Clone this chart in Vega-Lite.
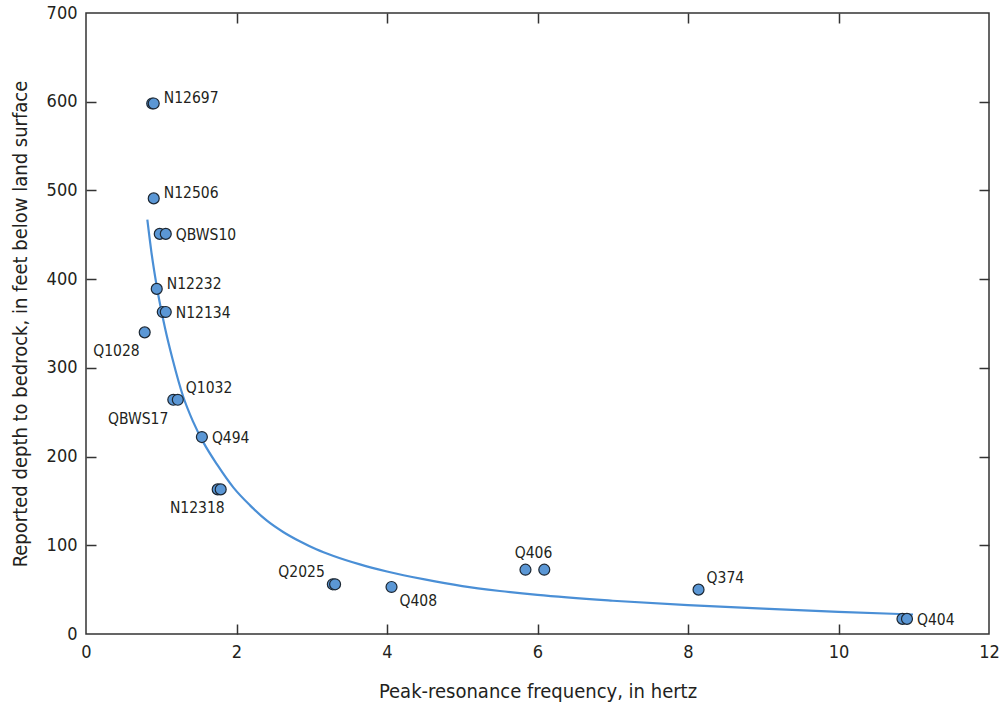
{
  "$schema": "https://vega.github.io/schema/vega-lite/v6.json",
  "autosize": {"type": "none"},
  "width": 903,
  "height": 621,
  "padding": {"left": 86, "top": 13, "right": 11, "bottom": 72},
  "background": "white",
  "config": {
    "view": {"stroke": "#333333", "strokeWidth": 1.5},
    "font": "'Liberation Sans Narrow', 'DejaVu Sans Condensed', 'Roboto Condensed', Roboto, sans-serif",
    "text": {"font": "'Liberation Sans Narrow', 'DejaVu Sans Condensed', 'Roboto Condensed', Roboto, sans-serif"},
    "axis": {"grid": false, "domainColor": "#333333", "tickColor": "#333333", "labelColor": "#231f20", "titleColor": "#231f20", "labelFont": "'Liberation Sans Narrow', 'DejaVu Sans Condensed', 'Roboto Condensed', Roboto, sans-serif", "titleFont": "'Liberation Sans Narrow', 'DejaVu Sans Condensed', 'Roboto Condensed', Roboto, sans-serif", "labelFontSize": 18, "titleFontSize": 20, "titleFontWeight": "normal", "domainWidth": 1.5, "tickWidth": 1.5}
  },
  "datasets": {
    "pts": [
      {"site": "N12697", "freq": 0.88, "depth": 598},
      {"site": "N12697", "freq": 0.90, "depth": 598},
      {"site": "N12506", "freq": 0.90, "depth": 491},
      {"site": "QBWS10", "freq": 0.98, "depth": 451},
      {"site": "QBWS10", "freq": 1.06, "depth": 451},
      {"site": "N12232", "freq": 0.94, "depth": 389},
      {"site": "N12134", "freq": 1.02, "depth": 363},
      {"site": "N12134", "freq": 1.06, "depth": 363},
      {"site": "Q1028", "freq": 0.78, "depth": 340},
      {"site": "QBWS17", "freq": 1.16, "depth": 264},
      {"site": "Q1032", "freq": 1.22, "depth": 264},
      {"site": "Q494", "freq": 1.54, "depth": 222},
      {"site": "N12318", "freq": 1.75, "depth": 163},
      {"site": "N12318", "freq": 1.79, "depth": 163},
      {"site": "Q2025", "freq": 3.28, "depth": 56},
      {"site": "Q2025", "freq": 3.31, "depth": 56},
      {"site": "Q408", "freq": 4.06, "depth": 53},
      {"site": "Q406", "freq": 5.84, "depth": 72.5},
      {"site": "Q406", "freq": 6.09, "depth": 72.5},
      {"site": "Q374", "freq": 8.14, "depth": 50},
      {"site": "Q404", "freq": 10.85, "depth": 17},
      {"site": "Q404", "freq": 10.91, "depth": 17}
    ],
    "labels": [
      {"site": "N12697", "freq": 0.90, "depth": 598},
      {"site": "N12506", "freq": 0.90, "depth": 491},
      {"site": "QBWS10", "freq": 1.06, "depth": 451},
      {"site": "N12232", "freq": 0.94, "depth": 389},
      {"site": "N12134", "freq": 1.06, "depth": 363},
      {"site": "Q1028", "freq": 0.78, "depth": 340},
      {"site": "QBWS17", "freq": 1.16, "depth": 264},
      {"site": "Q1032", "freq": 1.22, "depth": 264},
      {"site": "Q494", "freq": 1.54, "depth": 222},
      {"site": "N12318", "freq": 1.75, "depth": 163},
      {"site": "Q2025", "freq": 3.28, "depth": 56},
      {"site": "Q408", "freq": 4.06, "depth": 53},
      {"site": "Q406", "freq": 5.84, "depth": 72.5},
      {"site": "Q374", "freq": 8.14, "depth": 50},
      {"site": "Q404", "freq": 10.91, "depth": 17}
    ],
    "curve": [
      {"freq": 0.815, "depth": 467},
      {"freq": 0.87, "depth": 430},
      {"freq": 0.94, "depth": 392},
      {"freq": 1.05, "depth": 345},
      {"freq": 1.15, "depth": 310},
      {"freq": 1.29, "depth": 268},
      {"freq": 1.42, "depth": 240},
      {"freq": 1.56, "depth": 216},
      {"freq": 1.75, "depth": 190},
      {"freq": 1.96, "depth": 165},
      {"freq": 2.18, "depth": 145},
      {"freq": 2.40, "depth": 128},
      {"freq": 2.62, "depth": 115},
      {"freq": 2.84, "depth": 104.5},
      {"freq": 3.06, "depth": 95.5},
      {"freq": 3.29, "depth": 88},
      {"freq": 3.64, "depth": 78.5},
      {"freq": 4.0, "depth": 70.5},
      {"freq": 4.5, "depth": 61.5},
      {"freq": 5.0, "depth": 54},
      {"freq": 5.5, "depth": 48.5},
      {"freq": 6.0, "depth": 44},
      {"freq": 7.0, "depth": 37.5},
      {"freq": 8.0, "depth": 32.5},
      {"freq": 9.0, "depth": 28.5},
      {"freq": 10.0, "depth": 25},
      {"freq": 10.99, "depth": 22}
    ]
  },
  "layer": [
    {
      "data": {"name": "curve"},
      "mark": {"type": "line", "color": "#4a8fd6", "strokeWidth": 2.2, "interpolate": "monotone"},
      "encoding": {
        "x": {"field": "freq", "type": "quantitative", "scale": {"domain": [0, 12], "nice": false, "zero": false}, "axis": {"orient": "bottom", "title": "Peak-resonance frequency, in hertz", "values": [0, 2, 4, 6, 8, 10, 12], "ticks": false, "domain": false, "labelPadding": 9, "titlePadding": 20, "labelFlush": false, "labelOverlap": false}},
        "y": {"field": "depth", "type": "quantitative", "scale": {"domain": [0, 700], "nice": false}, "axis": {"orient": "left", "title": "Reported depth to bedrock, in feet below land surface", "values": [0, 100, 200, 300, 400, 500, 600, 700], "ticks": false, "domain": false, "labelPadding": 9, "titlePadding": 16, "labelFlush": false, "labelOverlap": false}}
      }
    },
    {
      "data": {"name": "curve"},
      "mark": {"type": "line", "opacity": 0},
      "encoding": {
        "x": {"field": "freq", "type": "quantitative", "axis": {"orient": "top", "offset": -621, "title": null, "labels": false, "domain": false, "values": [2, 4, 6, 8, 10], "tickSize": 10}},
        "y": {"field": "depth", "type": "quantitative", "axis": {"orient": "right", "offset": -903, "title": null, "labels": false, "domain": false, "values": [100, 200, 300, 400, 500, 600], "tickSize": 10}}
      }
    },
    {
      "data": {"name": "curve"},
      "mark": {"type": "line", "opacity": 0},
      "encoding": {
        "x": {"field": "freq", "type": "quantitative", "axis": {"orient": "bottom", "offset": -621, "title": null, "labels": false, "domain": false, "values": [2, 4, 6, 8, 10], "tickSize": 10}},
        "y": {"field": "depth", "type": "quantitative", "axis": {"orient": "left", "offset": -903, "title": null, "labels": false, "domain": false, "values": [100, 200, 300, 400, 500, 600], "tickSize": 10}}
      }
    },
    {
      "data": {"name": "pts"},
      "mark": {"type": "circle", "size": 120, "fill": "#5b97d5", "stroke": "#1c2733", "strokeWidth": 1.2, "opacity": 1},
      "encoding": {
        "x": {"field": "freq", "type": "quantitative", "axis": null},
        "y": {"field": "depth", "type": "quantitative", "axis": null}
      }
    },
    {
      "data": {"name": "labels"},
      "encoding": {
        "x": {"field": "freq", "type": "quantitative", "axis": null},
        "y": {"field": "depth", "type": "quantitative", "axis": null},
        "text": {"field": "site"}
      },
      "layer": [
        {
          "transform": [{"filter": {"field": "site", "oneOf": ["N12697", "N12506", "N12232"]}}],
          "mark": {"type": "text", "align": "left", "baseline": "middle", "dx": 10, "dy": -5, "fontSize": 15.5, "color": "#231f20"}
        },
        {
          "transform": [{"filter": {"field": "site", "oneOf": ["QBWS10", "N12134", "Q494", "Q404"]}}],
          "mark": {"type": "text", "align": "left", "baseline": "middle", "dx": 10, "dy": 1, "fontSize": 15.5, "color": "#231f20"}
        },
        {
          "transform": [{"filter": {"field": "site", "oneOf": ["Q1032", "Q374"]}}],
          "mark": {"type": "text", "align": "left", "baseline": "middle", "dx": 8, "dy": -12, "fontSize": 15.5, "color": "#231f20"}
        },
        {
          "transform": [{"filter": {"field": "site", "oneOf": ["Q1028", "QBWS17"]}}],
          "mark": {"type": "text", "align": "right", "baseline": "middle", "dx": -5, "dy": 19, "fontSize": 15.5, "color": "#231f20"}
        },
        {
          "transform": [{"filter": {"field": "site", "equal": "N12318"}}],
          "mark": {"type": "text", "align": "right", "baseline": "middle", "dx": 7, "dy": 19, "fontSize": 15.5, "color": "#231f20"}
        },
        {
          "transform": [{"filter": {"field": "site", "equal": "Q2025"}}],
          "mark": {"type": "text", "align": "right", "baseline": "middle", "dx": -8, "dy": -12, "fontSize": 15.5, "color": "#231f20"}
        },
        {
          "transform": [{"filter": {"field": "site", "equal": "Q408"}}],
          "mark": {"type": "text", "align": "left", "baseline": "middle", "dx": 8, "dy": 14, "fontSize": 15.5, "color": "#231f20"}
        },
        {
          "transform": [{"filter": {"field": "site", "equal": "Q406"}}],
          "mark": {"type": "text", "align": "center", "baseline": "middle", "dx": 8, "dy": -17, "fontSize": 15.5, "color": "#231f20"}
        }
      ]
    }
  ],
  "resolve": {"axis": {"x": "independent", "y": "independent"}}
}
